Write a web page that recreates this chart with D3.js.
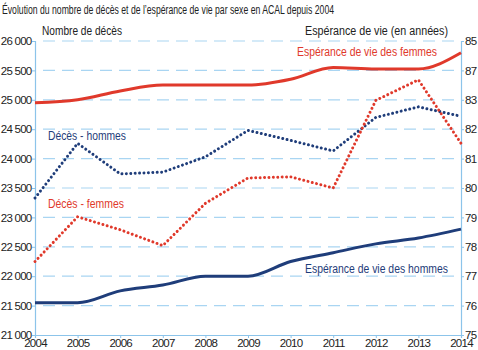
<!DOCTYPE html>
<html>
<head>
<meta charset="utf-8">
<script src="https://cdn.jsdelivr.net/npm/d3@7"></script>
<style>
  body { margin: 0; background: #fff; }
  svg { display: block; font-family: "Liberation Sans", Arial, sans-serif; }
  .axis path, .axis line { stroke: #8cc4ea; }
  .axis text { fill: #222; font-size: 11.5px; letter-spacing: -0.75px; }
</style>
</head>
<body>
<div id="viz"></div>
<script>
const years = [2004, 2005, 2006, 2007, 2008, 2009, 2010, 2011, 2012, 2013, 2014];
// nombre de décès (axe gauche)
const decesHommes = [23330, 24260, 23740, 23770, 24030, 24480, 24310, 24130, 24700, 24880, 24720];
const decesFemmes = [22250, 23010, 22790, 22520, 23240, 23670, 23690, 23500, 24990, 25340, 24260];
// espérance de vie (axe droit)
const evFemmes = [82.9, 83.0, 83.3, 83.5, 83.5, 83.5, 83.7, 84.1, 84.05, 84.05, 84.6];
const evHommes = [76.1, 76.1, 76.5, 76.7, 77.0, 77.0, 77.5, 77.8, 78.1, 78.3, 78.6];
const leftTicks = [21000, 21500, 22000, 22500, 23000, 23500, 24000, 24500, 25000, 25500, 26000];
const rightTicks = [75, 76, 77, 78, 79, 80, 81, 82, 83, 84, 85];
const rightTickLabels = ["75", "76", "77", "78", "79", "80", "81", "82", "83", "87", "85"];

const width = 478;
const height = 350;
const red = "#e0392b";
const blue = "#1f3d7a";

const svg = d3.select("#viz")
    .append("svg")
    .attr("width", width)
    .attr("height", height);

const x = d3.scaleLinear().domain([2004, 2014]).range([35, 461]);
const yLeft = d3.scaleLinear().domain([21000, 26000]).range([335, 41]);
const yRight = d3.scaleLinear().domain([75, 85]).range([335, 41]);

const fr = d3.formatLocale({decimal: ",", thousands: " ", grouping: [3], currency: ["", " €"]});

// texts squeezed to the widths measured on the picture (narrow font)
const addText = (t, px, py, w, opts = {}) => svg.append("text")
    .attr("x", px).attr("y", py)
    .attr("font-size", opts.size || 12)
    .attr("fill", opts.color || "#222")
    .attr("text-anchor", opts.anchor || "start")
    .attr("textLength", w)
    .attr("lengthAdjust", "spacingAndGlyphs")
    .text(t);

addText("Évolution du nombre de décès et de l’espérance de vie par sexe en ACAL depuis 2004", 2, 14, 332, {size: 12.5});
addText("Nombre de décès", 42, 35, 80);
addText("Espérance de vie (en années)", 305, 35, 143);

// gridlines
svg.append("g")
    .selectAll("line")
    .data(leftTicks.slice(1))
    .join("line")
        .attr("x1", 43).attr("x2", 461)
        .attr("y1", d => yLeft(d)).attr("y2", d => yLeft(d))
        .attr("stroke", "#a9d5f2")
        .attr("stroke-width", 1.2)
        .attr("stroke-dasharray", "12,7");

// axes
svg.append("g").attr("class", "axis")
    .attr("transform", "translate(35,0)")
    .call(d3.axisLeft(yLeft).tickValues(leftTicks).tickSize(3).tickPadding(0.5)
        .tickFormat(fr.format(",")));

svg.append("g").attr("class", "axis")
    .attr("transform", "translate(461,0)")
    .call(d3.axisRight(yRight).tickValues(rightTicks).tickSize(3).tickPadding(1)
        .tickFormat((d, i) => rightTickLabels[i]));

svg.append("g").attr("class", "axis")
    .attr("transform", "translate(0,335)")
    .call(d3.axisBottom(x).tickValues(years).tickSize(3).tickPadding(1)
        .tickFormat(d3.format("d")));

svg.selectAll(".axis .domain").attr("stroke-width", 1.2);

// lines
const lineLeft = d3.line().x((d, i) => x(years[i])).y(d => yLeft(d));
const lineRight = d3.line().x((d, i) => x(years[i])).y(d => yRight(d)).curve(d3.curveMonotoneX);

svg.append("path").datum(evFemmes)
    .attr("d", lineRight).attr("fill", "none")
    .attr("stroke", red).attr("stroke-width", 3);

svg.append("path").datum(evHommes)
    .attr("d", lineRight).attr("fill", "none")
    .attr("stroke", blue).attr("stroke-width", 3);

svg.append("path").datum(decesHommes)
    .attr("d", lineLeft).attr("fill", "none")
    .attr("stroke", blue).attr("stroke-width", 3)
    .attr("stroke-linecap", "round")
    .attr("stroke-dasharray", "0.01,4.4");

svg.append("path").datum(decesFemmes)
    .attr("d", lineLeft).attr("fill", "none")
    .attr("stroke", red).attr("stroke-width", 3)
    .attr("stroke-linecap", "round")
    .attr("stroke-dasharray", "0.01,4.4");

// series labels
addText("Espérance de vie des femmes", 297, 56, 140, {color: red, size: 12.5});
addText("Décès - hommes", 48, 140, 78, {color: blue, size: 12.5});
addText("Décès - femmes", 48, 208, 76, {color: red, size: 12.5});
addText("Espérance de vie des hommes", 305, 273, 143, {color: blue, size: 12.5});
</script>
</body>
</html>
